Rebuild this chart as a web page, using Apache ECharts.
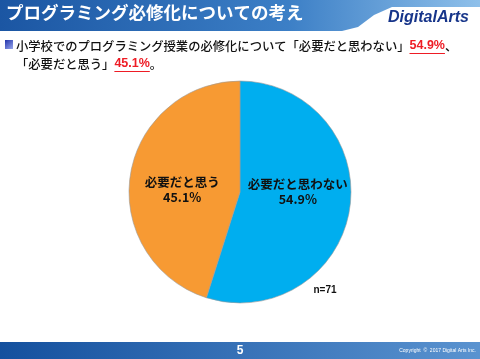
<!DOCTYPE html>
<html><head><meta charset="utf-8">
<script src="https://cdn.jsdelivr.net/npm/echarts@6/dist/echarts.min.js"></script>
<style>html,body{margin:0;padding:0;background:#fff}#c{width:480px;height:359px}</style>
</head><body><div id="c"></div>
<script>
var categories = ['必要だと思わない', '必要だと思う'];
var values = [54.9, 45.1];
var colors = ['#00AEEF', '#F79A33'];
var titleText = 'プログラミング必修化についての考え';
var sampleNote = 'n=71';
var pageNo = '5';

var chart = echarts.init(document.getElementById('c'), null, {renderer: 'canvas'});
var JP = '"Noto Sans CJK JP", sans-serif';
var subFont = '500 12.3px ' + JP;
var pctFont = 'bold 12.5px "Liberation Sans Narrow", "Liberation Sans", sans-serif';
var pre1 = '小学校でのプログラミング授業の必修化について「必要だと思わない」';
var pre2 = '「必要だと思う」';
var p1 = values[0] + '%', p2 = values[1] + '%';
var mc = document.createElement('canvas').getContext('2d');
function tw(t, f) { mc.font = f; return mc.measureText(t).width; }
var sx = 16;
var u1x = sx + tw(pre1, subFont), u1w = tw(p1, pctFont);
var u2x = sx + tw(pre2, subFont), u2w = tw(p2, pctFont);
var offsets = [[0, -9], [0, 7]];
chart.setOption({
  animation: false,
  graphic: [
    {type: 'polygon', shape: {points: [[0,0],[480,0],[480,7],[392,7],[374,15],[358,27],[342,31],[0,31]]},
      style: {fill: new echarts.graphic.LinearGradient(0,0,1,0,[{offset:0,color:'#1b56a3'},{offset:0.6,color:'#3c7fc6'},{offset:1,color:'#8fc0ea'}])}},
    {type: 'text', left: 6, top: 4, style: {text: titleText, fill: '#fff', font: 'bold 17.5px ' + JP}},
    {type: 'text', left: 388, top: 10, style: {text: 'DigitalArts', fill: '#17358a', font: 'italic bold 16px "Liberation Sans Narrow", "Liberation Sans", sans-serif'}},
    {type: 'rect', shape: {x: 5, y: 40, width: 8, height: 9}, style: {fill: new echarts.graphic.LinearGradient(0,0,1,1,[{offset:0,color:'#2233aa'},{offset:1,color:'#99a8ee'}])}},
    {type: 'text', left: sx, top: 37, style: {
      text: pre1 + '{r|' + p1 + '}、\n' + pre2 + '{r|' + p2 + '}。',
      font: subFont, fill: '#111', lineHeight: 18,
      rich: {r: {fill: '#ee1c25', font: pctFont}}
    }},
    {type: 'line', shape: {x1: u1x, y1: 53.5, x2: u1x + u1w, y2: 53.5}, style: {stroke: '#ee1c25', lineWidth: 1}},
    {type: 'line', shape: {x1: u2x, y1: 71.5, x2: u2x + u2w, y2: 71.5}, style: {stroke: '#ee1c25', lineWidth: 1}},
    {type: 'rect', shape: {x: 0, y: 342, width: 480, height: 17},
      style: {fill: new echarts.graphic.LinearGradient(0,0,1,0,[{offset:0,color:'#14509e'},{offset:1,color:'#5a93d0'}])}},
    {type: 'text', x: 240, y: 351, style: {text: pageNo, fill: '#fff', font: 'bold 12px "Liberation Sans Narrow", sans-serif', align: 'center', verticalAlign: 'middle'}},
    {type: 'text', x: 476, y: 351, style: {text: 'Copyright  ©  2017 Digital Arts Inc.', fill: '#fff', font: '5px "Liberation Sans", sans-serif', align: 'right', verticalAlign: 'middle'}},
    {type: 'text', x: 325, y: 290, style: {text: sampleNote, fill: '#111', font: 'bold 10px "Liberation Sans Narrow", sans-serif', align: 'center', verticalAlign: 'middle'}}
  ],
  series: [{
    type: 'pie',
    center: [240, 192],
    radius: [0, 111],
    startAngle: 90,
    clockwise: true,
    label: {show: true, position: 'inside', color: '#111', fontWeight: 'bold', fontSize: 12.5, fontFamily: JP, lineHeight: 15,
      formatter: function (p) { return p.name + '\n' + p.value.toFixed(1) + '%'; }},
    labelLine: {show: false},
    itemStyle: {borderColor: '#9a9a9a', borderWidth: 0.6},
    emphasis: {disabled: true},
    data: categories.map(function (n, i) {
      return {name: n, value: values[i], itemStyle: {color: colors[i]}, label: {offset: offsets[i]}};
    })
  }]
});
</script></body></html>
